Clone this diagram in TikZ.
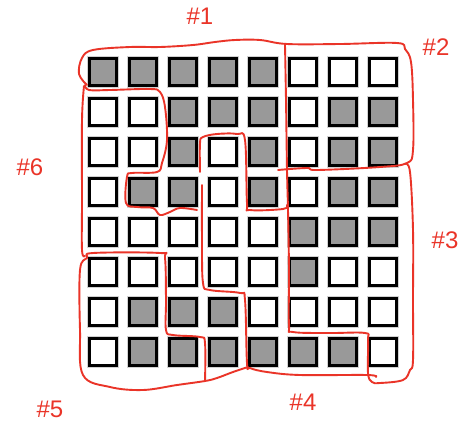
\documentclass[tikz,border=0pt]{standalone}
\usepackage{fontspec}
\setmainfont{Liberation Sans}
\begin{document}
\begin{tikzpicture}[x=1pt,y=-1pt,
  sq/.style={draw=black, line width=2.8pt, minimum size=27.2pt, inner sep=0pt, outer sep=0pt,
     preaction={draw=black!18, line width=4.8pt}},
  wsq/.style={sq, fill=white},
  redline/.style={draw=redpen, line width=1.9pt, line cap=round, line join=round},
  lab/.style={text=redpen, font=\fontsize{24}{24}\selectfont, inner sep=0pt}]
\definecolor{redpen}{RGB}{234,52,40}
\definecolor{sqgrey}{RGB}{153,153,153}
\useasboundingbox[fill=white] (0,0) rectangle (468,426);
% grid of squares: 1 = grey
\foreach \row/\pat in {0/{1,1,1,1,1,0,0,0},1/{0,0,1,1,1,0,1,1},2/{0,0,1,0,1,0,1,1},3/{0,1,1,0,1,0,1,1},
  4/{0,0,0,0,0,1,1,1},5/{0,0,0,0,0,1,0,0},6/{0,1,1,1,0,0,0,0},7/{0,1,1,1,1,1,1,0}}{
  \foreach \v [count=\c from 0] in \pat {
    \ifnum\v=1
      \node[sq, fill=sqgrey] (s-\row-\c) at ({103+40*\c},{72+40*\row}) {};
    \else
      \node[wsq] (s-\row-\c) at ({103+40*\c},{72+40*\row}) {};
    \fi
  }
}
% red hand-drawn region outlines
\draw[redline] plot[smooth, tension=0.6] coordinates {(87,85) (79,74) (82,58) (93,50) (130,47) (160,47) (193,45) (215,42) (235,40) (260,40) (287,44) (340,44) (397,43) (405,49) (411,62) (413,100) (413,150) (407,163) (380,167) (317,170) (307,168) (278,170)};
\draw[redline] plot[smooth, tension=0.6] coordinates {(285,45) (286,100) (287,170) (288,210) (289,270) (289,325) (293,332) (330,333) (365,333) (368,340) (368,373) (372,382) (380,383) (403,380) (410,370) (413,360) (413,300) (413,230) (410,172) (405,164)};
\draw[redline] plot[smooth, tension=0.6] coordinates {(85,85) (89,90) (110,90) (150,89) (160,92) (165,107) (167,140) (162,163) (157,172) (132,173) (127,177) (126,203) (137,207) (153,208) (160,215) (170,212) (180,208) (197,210)};
\draw[redline] plot[smooth, tension=0.6] coordinates {(84,86) (82,120) (82,200) (82,250) (85,256)};
\draw[redline] plot[smooth, tension=0.6] coordinates {(200,172) (200,143) (203,137) (217,134) (237,134) (245,140) (247,203) (250,210) (283,209) (287,205)};
\draw[redline] plot[smooth, tension=0.6] coordinates {(202,185) (202,240) (203,283) (210,290) (240,293) (245,300) (247,363) (250,368) (267,372) (300,375) (367,375) (376,377)};
\draw[redline] plot[smooth, tension=0.6] coordinates {(248,367) (233,372) (217,378) (205,381) (177,385) (143,390) (110,387) (83,375) (80,330) (80,270) (87,258) (93,253) (160,253) (165,258) (166,300) (166,330) (173,335) (200,337) (205,343) (205,381)};
% labels
\node[lab] (l1) at (200,16) {\#1};
\node[lab] (l2) at (436,47) {\#2};
\node[lab] (l3) at (445,240) {\#3};
\node[lab] (l4) at (303,402) {\#4};
\node[lab] (l5) at (50,409) {\#5};
\node[lab] (l6) at (30,167) {\#6};
\end{tikzpicture}
\end{document}
